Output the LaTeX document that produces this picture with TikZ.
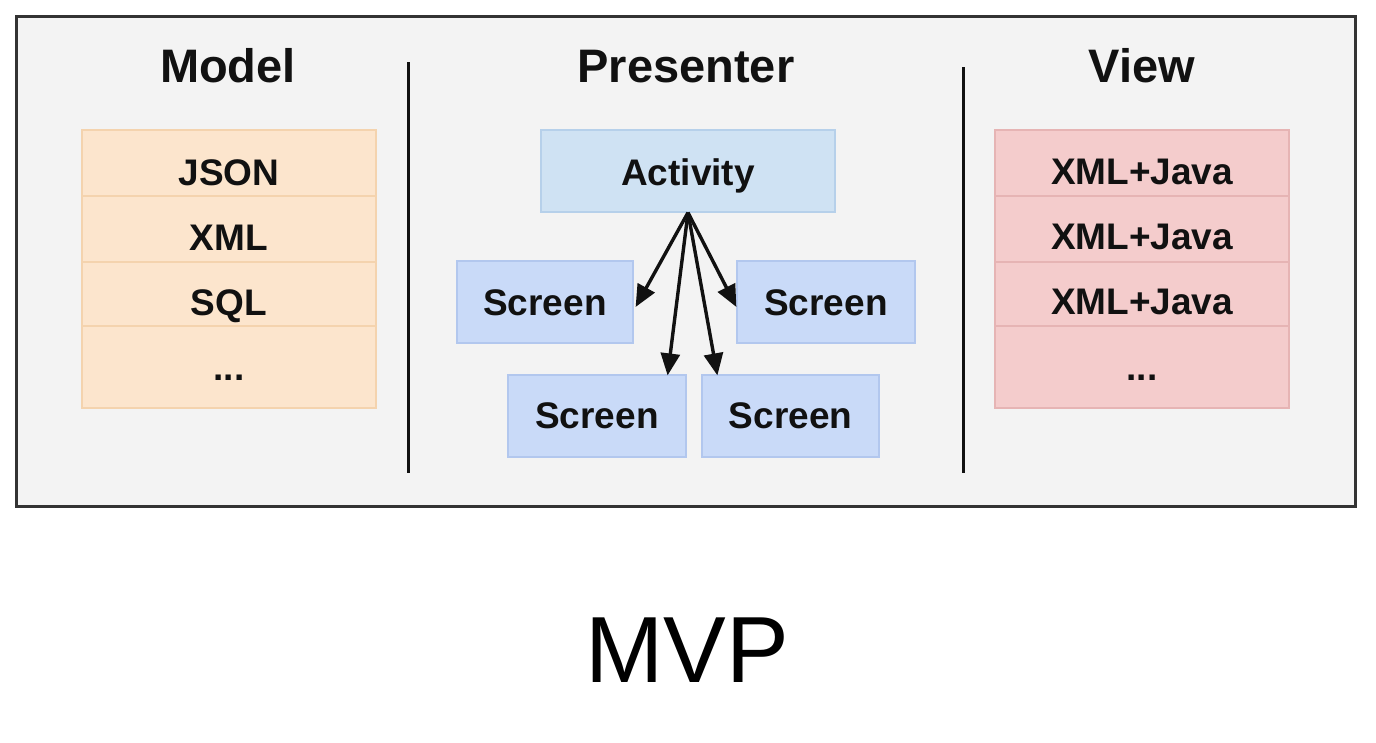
\documentclass[tikz,border=0pt]{standalone}
\usepackage{fontspec}
\setmainfont{Liberation Sans}
\usetikzlibrary{arrows.meta}
\definecolor{panelfill}{HTML}{F3F3F3}
\definecolor{panelline}{HTML}{333333}
\definecolor{mfill}{HTML}{FCE5CD}
\definecolor{mline}{HTML}{F4D3AE}
\definecolor{vfill}{HTML}{F4CCCC}
\definecolor{vline}{HTML}{E6B4B4}
\definecolor{afill}{HTML}{CFE2F3}
\definecolor{aline}{HTML}{B6D0EA}
\definecolor{sfill}{HTML}{C9DAF8}
\definecolor{sline}{HTML}{B2C7EE}
\definecolor{ink}{HTML}{111111}
\begin{document}
\begin{tikzpicture}[x=1pt,y=-1pt,
  cell/.style={rectangle, inner sep=0pt, line width=1.2pt},
  mcell/.style={cell, fill=mfill, draw=mline},
  vcell/.style={cell, fill=vfill, draw=vline},
  acell/.style={cell, fill=afill, draw=aline},
  scell/.style={cell, fill=sfill, draw=sline},
  title/.style={anchor=base, inner sep=0pt, text=ink, font=\bfseries\fontsize{47}{50}\selectfont},
  item/.style={anchor=base, inner sep=0pt, text=ink, font=\bfseries\fontsize{37}{40}\selectfont},
  divider/.style={draw=ink, line width=3pt},
  flow/.style={draw=ink, line width=3.4pt, -{Triangle[length=22pt,width=19pt]}}
]
\useasboundingbox (0,0) rectangle (1376,742);
% panel
\draw[fill=panelfill, draw=panelline, line width=3pt] (16.5,16) rectangle (1355.5,506);
% dividers
\coordinate (d1a) at (408.5,62);  \coordinate (d1b) at (408.5,473);
\coordinate (d2a) at (963,67);    \coordinate (d2b) at (963,473);
\draw[divider] (d1a) -- (d1b);
\draw[divider] (d2a) -- (d2b);
% titles
\node[title] (tm) at (228,82) {Model};
\node[title] (tp) at (686,82) {Presenter};
\node[title] (tv) at (1142,82) {View};
% model stack
\node[mcell, minimum width=294, minimum height=66] (m1) at (229,163) {};
\node[mcell, minimum width=294, minimum height=66] (m2) at (229,229) {};
\node[mcell, minimum width=294, minimum height=64] (m3) at (229,294) {};
\node[mcell, minimum width=294, minimum height=82] (m4) at (229,367) {};
\node[item] (m1t) at (229,185) {JSON};
\node[item] (m2t) at (229,250) {XML};
\node[item] (m3t) at (229,315) {SQL};
\node[item] (m4t) at (229,380) {...};
% view stack
\node[vcell, minimum width=294, minimum height=66] (v1) at (1142,163) {};
\node[vcell, minimum width=294, minimum height=66] (v2) at (1142,229) {};
\node[vcell, minimum width=294, minimum height=64] (v3) at (1142,294) {};
\node[vcell, minimum width=294, minimum height=82] (v4) at (1142,367) {};
\node[item] (v1t) at (1142,184) {XML+Java};
\node[item] (v2t) at (1142,249) {XML+Java};
\node[item] (v3t) at (1142,314) {XML+Java};
\node[item] (v4t) at (1142,380) {...};
% presenter
\node[acell, minimum width=294, minimum height=82] (act) at (688,171) {};
\node[item] (actt) at (688,185) {Activity};
\node[scell, minimum width=176, minimum height=82] (s1) at (545,302) {};
\node[scell, minimum width=178, minimum height=82] (s2) at (826,302) {};
\node[scell, minimum width=178, minimum height=82] (s3) at (597,416) {};
\node[scell, minimum width=177, minimum height=82] (s4) at (790.5,416) {};
\node[item] (s1t) at (545,315) {Screen};
\node[item] (s2t) at (826,315) {Screen};
\node[item] (s3t) at (597,428) {Screen};
\node[item] (s4t) at (790.5,428) {Screen};
% arrows
\draw[flow] (act.south) -- ([xshift=2pt,yshift=-5pt]s1.east);
\draw[flow] (act.south) -- ([yshift=-5pt]s2.west);
\draw[flow] (act.south) -- ([xshift=-19pt,yshift=-1pt]s3.north east);
\draw[flow] (act.south) -- ([xshift=16pt,yshift=-1pt]s4.north west);
% caption
\node[anchor=base, inner sep=0pt, font=\fontsize{94}{100}\selectfont] (cap) at (687,682) {MVP};
\end{tikzpicture}
\end{document}
